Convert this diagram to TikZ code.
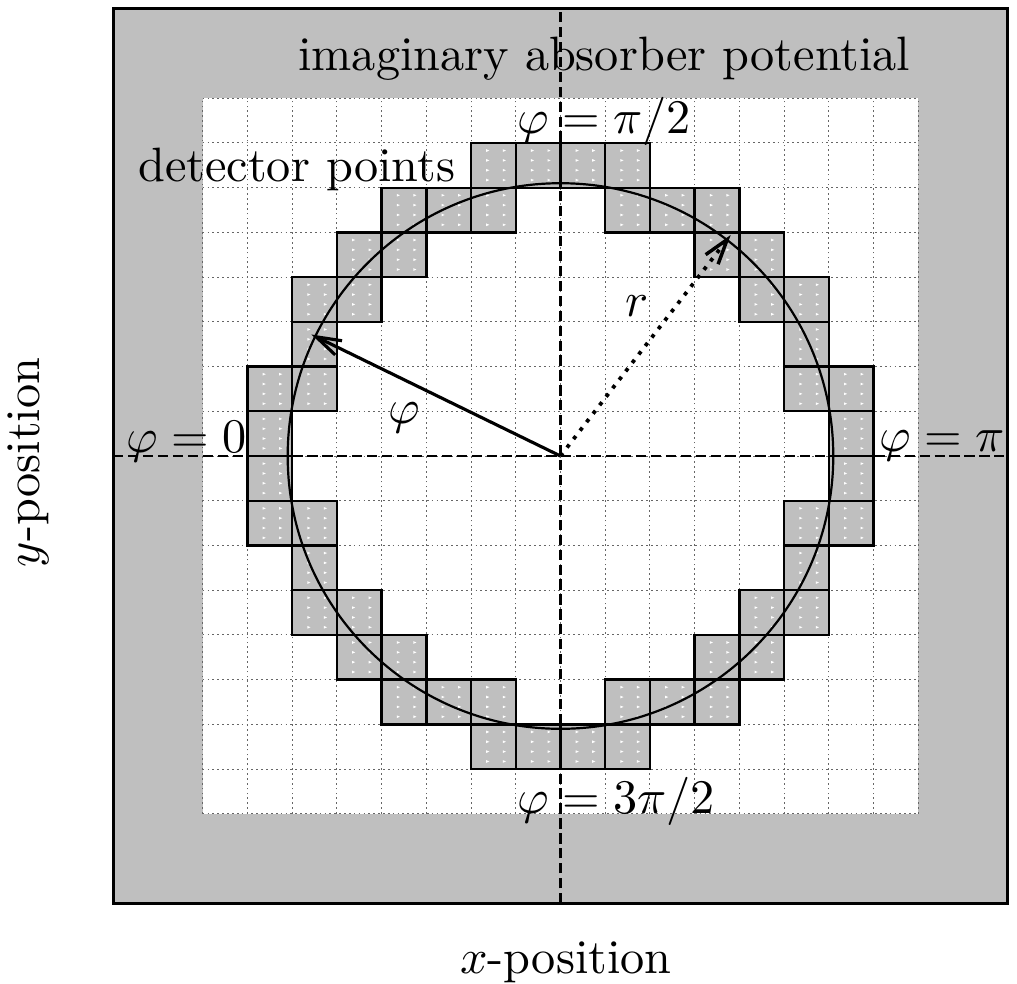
\documentclass[tikz,border=0pt]{standalone}
\usetikzlibrary{arrows.meta}
\begin{document}
\begin{tikzpicture}[
  lbl/.style={scale=3.07, inner sep=0pt, anchor=base},
  gridline/.style={black!60, line width=0.6pt, dash pattern=on 1.1pt off 2pt},
  axisline/.style={line width=1.8pt, dash pattern=on 6.5pt off 3pt},
  cellfill/.style={fill=lightgray},
  cellborder/.style={draw=black, line width=1.5pt},
  whitemark/.style={fill=white},
  arr/.style={line width=2pt, -{Straight Barb[length=16pt,width=10pt,line width=2pt]}},
  dotarr/.style={line width=2.4pt, dash pattern=on 2.4pt off 4.4pt, -{Straight Barb[length=16pt,width=10pt,line width=2.2pt]}},
]
\useasboundingbox (-12.533,-11.785) rectangle (10.208,10.197);
% absorber and inner region
\fill[lightgray] (-10,-10) rectangle (10,10);
\fill[white] (-8,-8) rectangle (8,8);
\draw[gridline] (-8,-8) grid (8,8);
% detector cells: fill and marks
\foreach \a/\b in {0/6,1/6,1/5,2/5,3/5,3/4,4/4,4/3,5/3,5/2,5/1,6/1,6/0}{
  \foreach \sx in {1,-1}{
    \foreach \sy in {1,-1}{
      \pgfmathsetmacro\cx{\sx*(\a+0.5)-0.5}
      \pgfmathsetmacro\cy{\sy*(\b+0.5)-0.5}
      \fill[cellfill] (\cx,\cy) rectangle ++(1,1);
      \foreach \dx in {0.34,0.71}{
        \foreach \dy in {0.14,0.36,0.58,0.80}{
          \fill[whitemark] (\cx+\dx,\cy+\dy) -- ++(0.07,0.03) -- ++(-0.07,0.03) -- cycle;
        }
      }
    }
  }
}
\foreach \a/\b in {0/6,1/6,1/5,2/5,3/5,3/4,4/4,4/3,5/3,5/2,5/1,6/1,6/0}{
  \foreach \sx in {1,-1}{
    \foreach \sy in {1,-1}{
      \pgfmathsetmacro\cx{\sx*(\a+0.5)-0.5}
      \pgfmathsetmacro\cy{\sy*(\b+0.5)-0.5}
      \draw[cellborder] (\cx,\cy) rectangle ++(1,1);
    }
  }
}
% coordinates
\coordinate (O) at (0,0);
\coordinate (W) at (-10,0);
\coordinate (E) at (10,0);
\coordinate (S) at (0,-10);
\coordinate (N) at (0,10);
\coordinate (A) at (154:6.2);
\coordinate (B) at (52.4:6.24);
% circle
\draw[line width=1.4pt] (O) circle (6.1);
% axes
\draw[axisline] (W) -- (E);
\draw[axisline] (S) -- (N);
% arrows
\draw[arr] (O) -- (A);
\draw[dotarr] (O) -- (B);
% outer border
\draw[line width=2pt] (-10,-10) rectangle (10,10);
% labels
\node[lbl] (title) at (0.98,8.63) {imaginary absorber potential};
\node[lbl] (det) at (-5.90,6.13) {detector points};
\node[lbl] (top) at (0.97,7.22) {$\varphi=\pi/2$};
\node[lbl] (bot) at (1.24,-7.99) {$\varphi=3\pi/2$};
\node[lbl] (left) at (-8.36,0.07) {$\varphi=0$};
\node[lbl] (right) at (8.53,0.11) {$\varphi=\pi$};
\node[lbl] (rlab) at (1.71,3.13) {$r$};
\node[lbl] (philab) at (-3.50,0.716) {$\varphi$};
\node[lbl, rotate=90] (ylab) at (-11.66,-0.145) {$y$-position};
\node[lbl] (xlab) at (0.12,-11.57) {$x$-position};
\end{tikzpicture}
\end{document}
